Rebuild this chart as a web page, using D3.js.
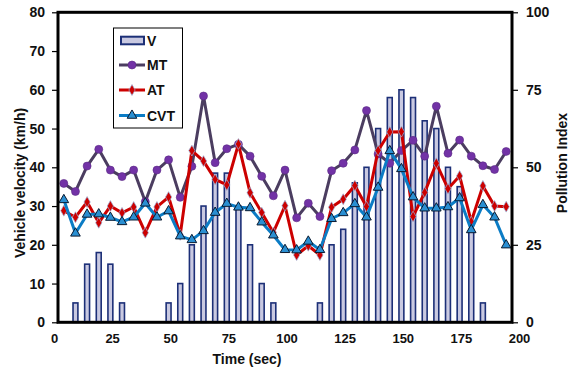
<!DOCTYPE html>
<html>
<head>
<meta charset="utf-8">
<script src="https://cdn.jsdelivr.net/npm/d3@7"></script>
<style>
  html, body { margin: 0; padding: 0; background: #ffffff; }
  svg { display: block; font-family: Arial, "Liberation Sans", sans-serif; }
</style>
</head>
<body>
<svg id="chart" width="575" height="369"></svg>
<script>
// ---- data (index = sample number, 39 samples) ----
const timeTicks = [0, 25, 50, 75, 100, 125, 150, 175, 200];
const leftTicks = [0, 10, 20, 30, 40, 50, 60, 70, 80];
const rightTicks = [0, 25, 50, 75, 100];
const seriesNames = ["V", "MT", "AT", "CVT"];

// Vehicle velocity (km/h), bars, left axis
const V = [0,5,15,18,15,5,0,0,0,5,10,20,30,38.5,38.5,30,20,10,5,0,0,0,5,20,24,36,40,50,58,60,58,52,50,40,35,24,5,0,0];
// Pollution index, lines, right axis
const MT = [44.8,42.2,50.4,55.8,49.1,47.0,49.1,38.9,49.1,52.4,40.3,50.3,73.0,51.5,56.0,57.4,53.6,47.1,40.8,49.1,33.7,38.4,34.1,48.9,51.3,55.6,68.3,54.3,51.3,55.4,58.7,53.6,69.7,54.5,58.8,53.6,50.5,49.3,55.1];
const AT = [36.0,33.9,38.8,32.1,37.5,35.3,37.2,28.9,37.2,40.4,28.2,55.4,52.0,46.1,44.3,57.5,41.8,35.4,29.0,37.6,21.7,24.7,21.7,37.1,39.7,44.1,37.3,55.4,61.4,61.5,34.1,41.9,51.3,43.1,47.2,32.5,44.0,37.5,37.3];
const CVT = [39.5,28.7,34.8,34.9,33.8,32.4,33.9,38.4,33.9,35.9,27.8,26.6,29.5,35.4,38.3,37.1,36.9,32.3,28.1,23.4,23.3,26.1,23.4,33.4,35.3,38.2,33.9,43.5,55.3,49.5,40.4,36.8,36.8,37.2,40.1,29.8,37.9,33.9,24.9];

// ---- layout ----
const L = 58, R = 512, T = 12.3, B = 322.3;
const svg = d3.select("#chart");

const x = d3.scaleBand().domain(d3.range(V.length)).range([L, R]);
const xLab = d3.scaleLinear().domain([0, 200]).range([54, 519]);
const yL = d3.scaleLinear().domain([0, 80]).range([B, T]);
const yR = d3.scaleLinear().domain([0, 100]).range([B, T]);

const barFill = "#c9c9e1", barStroke = "#1c2f77";
const colMTline = "#4b3d60", colMTmark = "#7232a6";
const colAT = "#cc0000", colCVT = "#0b7cc5", colCVTmark = "#2a8fd2";

// bars
const bw = x.bandwidth() * 0.42;
svg.append("g").selectAll("rect")
  .data(V.map((v, i) => ({ v, i })).filter(d => d.v > 0))
  .join("rect")
  .attr("x", d => x(d.i) + x.bandwidth() / 2 - bw / 2)
  .attr("y", d => yL(d.v))
  .attr("width", bw)
  .attr("height", d => yL(0) - yL(d.v))
  .attr("fill", barFill)
  .attr("stroke", barStroke)
  .attr("stroke-width", 1.6);

const cx = i => x(i) + x.bandwidth() / 2;
const line = d3.line().x((d, i) => cx(i)).y(d => yR(d));

function drawSeries(data, lineColor, markerFn) {
  svg.append("path").datum(data)
    .attr("d", line).attr("fill", "none")
    .attr("stroke", lineColor).attr("stroke-width", 3)
    .attr("stroke-linejoin", "round");
  const g = svg.append("g");
  data.forEach((d, i) => markerFn(g, cx(i), yR(d)));
}

const mtMarker = (g, px, py) => g.append("circle").attr("cx", px).attr("cy", py).attr("r", 4)
  .attr("fill", colMTmark).attr("stroke", "#5a2a85").attr("stroke-width", 0.6);
const atMarker = (g, px, py) => g.append("path")
  .attr("d", d3.symbol(d3.symbolDiamond, 34)()).attr("transform", `translate(${px},${py})`)
  .attr("fill", colAT).attr("stroke", "#9ab8e0").attr("stroke-width", 0.7);
const cvtMarker = (g, px, py) => g.append("path")
  .attr("d", d3.symbol(d3.symbolTriangle, 40)()).attr("transform", `translate(${px},${py})`)
  .attr("fill", colCVTmark).attr("stroke", "#0a1a30").attr("stroke-width", 1);

drawSeries(MT, colMTline, mtMarker);
drawSeries(AT, colAT, atMarker);
drawSeries(CVT, colCVT, cvtMarker);

// axes
const fontSty = sel => sel.selectAll("text")
  .attr("font-family", "Arial, 'Liberation Sans', sans-serif")
  .attr("font-weight", "bold").attr("fill", "#111");

const gl = svg.append("g").attr("transform", `translate(${L},0)`)
  .call(d3.axisLeft(yL).tickValues(leftTicks).tickSize(6).tickPadding(7));
gl.select(".domain").remove();
gl.selectAll("line").attr("stroke", "#000").attr("stroke-width", 1.2);
gl.selectAll("text").attr("font-size", 14);
fontSty(gl);

const gr = svg.append("g").attr("transform", `translate(${R},0)`)
  .call(d3.axisRight(yR).tickValues(rightTicks).tickSize(6).tickPadding(8));
gr.select(".domain").remove();
gr.selectAll("line").attr("stroke", "#000").attr("stroke-width", 1.2);
gr.selectAll("text").attr("font-size", 14);
fontSty(gr);

const gb = svg.append("g").attr("transform", `translate(0,${B})`)
  .call(d3.axisBottom(xLab).tickValues(timeTicks).tickSize(0).tickPadding(11));
gb.select(".domain").remove();
gb.selectAll("text").attr("font-size", 13);
fontSty(gb);

// frame
svg.append("rect").attr("x", L).attr("y", T).attr("width", R - L).attr("height", B - T)
  .attr("fill", "none").attr("stroke", "#000").attr("stroke-width", 3);

// titles
const title = (txt, tx, ty, rot) => svg.append("text").text(txt)
  .attr("transform", `translate(${tx},${ty}) rotate(${rot})`)
  .attr("text-anchor", "middle").attr("dominant-baseline", "central")
  .attr("font-size", 14).attr("font-weight", "bold").attr("fill", "#111");
title("Time (sec)", 247, 359, 0);
title("Vehicle velocity (km/h)", 20, 183, -90);
title("Pollution Index", 562, 163, -90);

// legend
const lg = svg.append("g");
lg.append("rect").attr("x", 113.5).attr("y", 28).attr("width", 69).attr("height", 100)
  .attr("fill", "#fff").attr("stroke", "#000").attr("stroke-width", 1);
const ly = [40.5, 65, 90, 115.5];
lg.append("rect").attr("x", 121).attr("y", ly[0] - 3.8).attr("width", 23).attr("height", 7.6)
  .attr("fill", barFill).attr("stroke", barStroke).attr("stroke-width", 2);
[[colMTline, mtMarker], [colAT, atMarker], [colCVT, cvtMarker]].forEach(([c, m], k) => {
  const yy = ly[k + 1];
  lg.append("line").attr("x1", 119).attr("x2", 145).attr("y1", yy).attr("y2", yy)
    .attr("stroke", c).attr("stroke-width", 3);
  m(lg, 132, yy);
});
lg.selectAll("text.leg").data(seriesNames).join("text")
  .attr("x", 147).attr("y", (d, i) => ly[i])
  .attr("dominant-baseline", "central")
  .attr("font-size", 14).attr("font-weight", "bold").attr("fill", "#111")
  .text(d => d);
</script>
</body>
</html>
